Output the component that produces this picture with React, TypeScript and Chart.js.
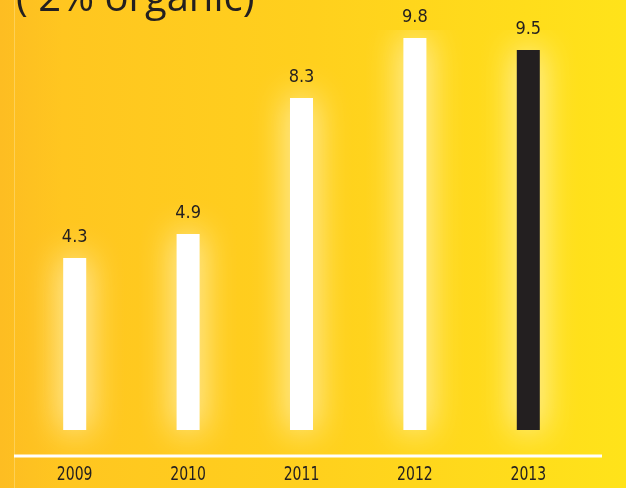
import React, { useEffect, useRef } from "react";
import { Chart, registerables } from "chart.js";

Chart.register(...registerables);

const categories = ["2009", "2010", "2011", "2012", "2013"];
const values = [4.3, 4.9, 8.3, 9.8, 9.5];
const barColors = ["#FFFFFF", "#FFFFFF", "#FFFFFF", "#FFFFFF", "#231F20"];
const titleText = "( 2% organic)";

const TEXT = "#231F20";

const backgroundPlugin = {
  id: "bg",
  beforeDraw(chart: any) {
    const { ctx, width, height } = chart;
    ctx.save();
    const g = ctx.createLinearGradient(0, 0, width, 0);
    g.addColorStop(0, "#FDBD22");
    g.addColorStop(0.1, "#FFC620");
    g.addColorStop(0.5, "#FFD01D");
    g.addColorStop(1, "#FFE31A");
    ctx.fillStyle = g;
    ctx.fillRect(0, 0, width, height);
    ctx.fillStyle = "rgba(255,240,180,0.35)";
    ctx.fillRect(14, 0, 1, height);
    // title (cut off at top)
    ctx.fillStyle = TEXT;
    ctx.font = "40px 'Open Sans', sans-serif";
    ctx.textBaseline = "alphabetic";
    ctx.textAlign = "left";
    ctx.fillText(titleText, 16, 11);
    // baseline
    const area = chart.chartArea;
    ctx.fillStyle = "#FFFFFF";
    ctx.fillRect(area.left - 4, area.bottom - 1.5, area.right - area.left + 21, 3);
    // category labels (horizontally condensed)
    const xs = chart.scales.x;
    ctx.fillStyle = TEXT;
    ctx.font = "19px 'DejaVu Sans Condensed', 'DejaVu Sans', sans-serif";
    ctx.textAlign = "center";
    ctx.textBaseline = "middle";
    categories.forEach((c, i) => {
      const px = xs.getPixelForTick(i);
      ctx.save();
      ctx.translate(px, area.bottom + 19);
      ctx.scale(0.82, 1);
      ctx.fillText(c, 0, 0);
      ctx.restore();
    });
    ctx.restore();
  },
  beforeDatasetsDraw(chart: any) {
    const ctx = chart.ctx;
    ctx.save();
    ctx.shadowColor = "rgba(255,248,210,1)";
    ctx.shadowBlur = 34;
  },
  afterDatasetsDraw(chart: any) {
    const ctx = chart.ctx;
    ctx.restore();
    const meta = chart.getDatasetMeta(0);
    ctx.save();
    ctx.fillStyle = TEXT;
    ctx.font = "18px 'DejaVu Sans Condensed', 'DejaVu Sans', sans-serif";
    ctx.textAlign = "center";
    ctx.textBaseline = "middle";
    meta.data.forEach((el: any, i: number) => {
      ctx.fillText(values[i].toFixed(1), el.x, el.y - 21);
    });
    ctx.restore();
  },
};

export default function App() {
  const ref = useRef<HTMLCanvasElement | null>(null);
  useEffect(() => {
    if (!ref.current) return;
    const chart = new Chart(ref.current, {
      type: "bar",
      data: {
        labels: categories,
        datasets: [
          {
            data: values,
            backgroundColor: barColors,
            borderWidth: 0,
            barPercentage: 0.203,
            categoryPercentage: 1,
          },
        ],
      },
      options: {
        animation: false,
        responsive: false,
        devicePixelRatio: 1,
        layout: { padding: { left: 18, right: 41, top: 30, bottom: 32 } },
        plugins: { legend: { display: false }, tooltip: { enabled: false } },
        scales: {
          y: { display: false, min: -0.65, max: 10 },
          x: {
            display: false,
            grid: { display: false },
          },
        },
      },
      plugins: [backgroundPlugin],
    });
    return () => chart.destroy();
  }, []);
  return (
    <canvas
      ref={ref}
      width={626}
      height={488}
      style={{ position: "absolute", left: 0, top: 0, width: 626, height: 488 }}
    />
  );
}
